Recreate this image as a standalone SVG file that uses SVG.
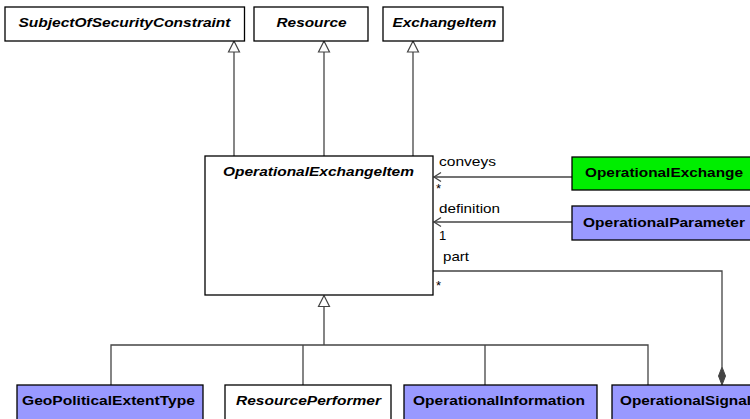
<svg xmlns="http://www.w3.org/2000/svg" width="750" height="419" viewBox="0 0 750 419">
<defs>
<style>
.box{stroke:#000;stroke-width:1.3;fill:#fff}
.purple{fill:#9999ff}
.green{fill:#00ee00}
.t{font-family:"Liberation Sans",Arial,sans-serif;font-size:13px;font-weight:bold;fill:#000;text-anchor:middle}
.i{font-style:italic}
.l{font-family:"Liberation Sans",Arial,sans-serif;font-size:13px;fill:#000}
.c{stroke:#444;stroke-width:1.3;fill:none}
</style>
</defs>
<rect width="750" height="419" fill="#fff"/>

<g id="connectors">
<path class="c" d="M234,156 V42"/>
<path class="c" d="M324,156 V42"/>
<path class="c" d="M413,156 V42"/>
<path d="M234,41 L239.5,52 L228.5,52 Z M324,41 L329.5,52 L318.5,52 Z M413,41 L418.5,52 L407.5,52 Z" fill="#fff" stroke="#444" stroke-width="1.2"/>
<path class="c" d="M572,177 H434"/>
<path class="c" d="M441,172.5 L434,177 L441,181.5"/>
<path class="c" d="M572,222 H434"/>
<path class="c" d="M441,217.5 L434,222 L441,226.5"/>
<path class="c" d="M433,271 H722 V367"/>
<path d="M722,367 L725.5,376 L722,385 L718.5,376 Z" fill="#444" stroke="#444" stroke-width="1"/>
<path class="c" d="M324,307 V345 M111,385 V345 H648 V385 M303,345 V385 M485,345 V385"/>
<path d="M324,295.5 L329.5,306.5 L318.5,306.5 Z" fill="#fff" stroke="#444" stroke-width="1.2"/>
<text class="l" x="439" y="166" textLength="57" lengthAdjust="spacingAndGlyphs">conveys</text>
<text class="l" x="436" y="193">*</text>
<text class="l" x="439" y="213" textLength="61" lengthAdjust="spacingAndGlyphs">definition</text>
<text class="l" x="439" y="240">1</text>
<text class="l" x="443" y="261" textLength="26" lengthAdjust="spacingAndGlyphs">part</text>
<text class="l" x="436" y="290">*</text>
</g>

<g id="SubjectOfSecurityConstraint">
<rect class="box" x="5" y="7" width="239.5" height="34"/>
<text class="t i" x="124.5" y="27" textLength="212" lengthAdjust="spacingAndGlyphs">SubjectOfSecurityConstraint</text>
</g>
<g id="Resource">
<rect class="box" x="254" y="7" width="114" height="34"/>
<text class="t i" x="311.5" y="27" textLength="70" lengthAdjust="spacingAndGlyphs">Resource</text>
</g>
<g id="ExchangeItem">
<rect class="box" x="383" y="7" width="120" height="34"/>
<text class="t i" x="444.5" y="27" textLength="104" lengthAdjust="spacingAndGlyphs">ExchangeItem</text>
</g>
<g id="OperationalExchangeItem">
<rect class="box" x="205" y="156" width="228" height="139"/>
<text class="t i" x="318.5" y="176" textLength="191" lengthAdjust="spacingAndGlyphs">OperationalExchangeItem</text>
</g>
<g id="OperationalExchange">
<rect class="box green" x="572" y="157" width="182" height="33"/>
<text class="t" x="664" y="177" textLength="158" lengthAdjust="spacingAndGlyphs">OperationalExchange</text>
</g>
<g id="OperationalParameter">
<rect class="box purple" x="572" y="206" width="182" height="34"/>
<text class="t" x="664" y="227" textLength="162" lengthAdjust="spacingAndGlyphs">OperationalParameter</text>
</g>
<g id="GeoPoliticalExtentType">
<rect class="box purple" x="17" y="385" width="186" height="45"/>
<text class="t" x="108.5" y="405" textLength="173" lengthAdjust="spacingAndGlyphs">GeoPoliticalExtentType</text>
</g>
<g id="ResourcePerformer">
<rect class="box" x="225" y="385" width="166" height="45"/>
<text class="t i" x="308.5" y="405" textLength="145" lengthAdjust="spacingAndGlyphs">ResourcePerformer</text>
</g>
<g id="OperationalInformation">
<rect class="box purple" x="404" y="385" width="193" height="45"/>
<text class="t" x="499" y="405" textLength="172" lengthAdjust="spacingAndGlyphs">OperationalInformation</text>
</g>
<g id="OperationalSignal">
<rect class="box purple" x="612" y="385" width="160" height="45"/>
<text class="t" x="620" y="405" style="text-anchor:start" textLength="131" lengthAdjust="spacingAndGlyphs">OperationalSignal</text>
</g>
</svg>
